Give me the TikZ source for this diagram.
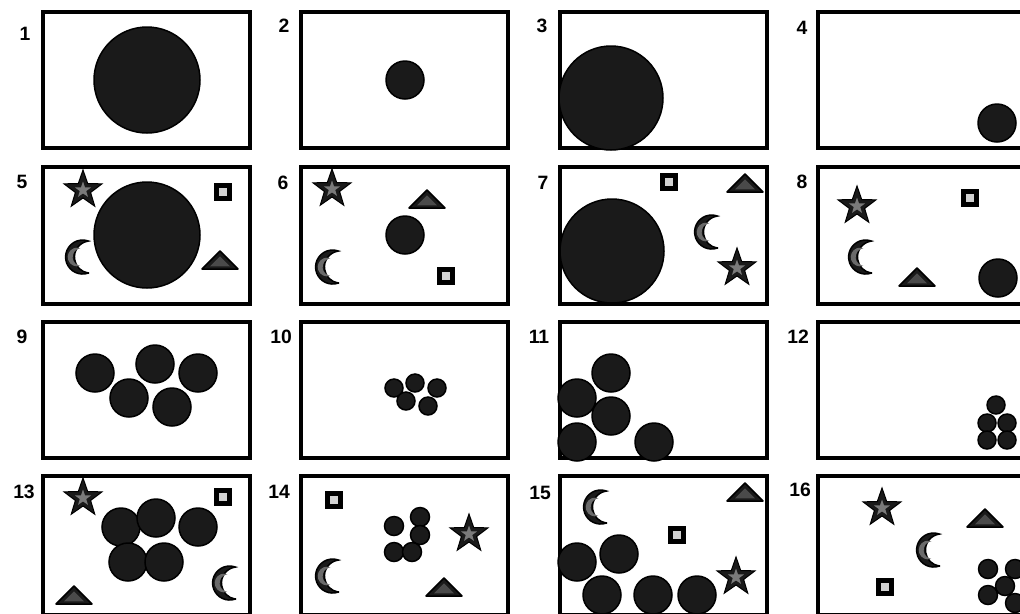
\documentclass[tikz,border=0pt]{standalone}
\usepackage{fontspec}
\setmainfont{Liberation Sans}
\usetikzlibrary{shapes.geometric}
\definecolor{dotfill}{HTML}{1A1A1A}
\definecolor{stargray}{HTML}{7A7A7A}
\definecolor{sqgray}{HTML}{D2D2D2}
\definecolor{trigray}{HTML}{4A4A4A}
\definecolor{moongray}{HTML}{6A6A6A}
\tikzset{
  frame/.style={draw=black,line width=0.08cm},
  dot/.style={fill=dotfill,draw=black,line width=0.03cm},
  lbl/.style={font=\fontsize{11}{13}\selectfont\bfseries,inner sep=0pt},
  starout/.style={star,star points=5,star point ratio=2.5,minimum size=0.8cm,inner sep=0pt,draw=black,line width=0.02cm,fill=dotfill},
  starin/.style={star,star points=5,star point ratio=2.5,minimum size=0.34cm,inner sep=0pt,fill=stargray},
  sq/.style={rectangle,minimum size=0.26cm,inner sep=0pt,draw=black,line width=0.1cm,fill=sqgray},
  tri/.style={draw=black,line width=0.03cm,fill=dotfill,line join=round},
  moonst/.style={draw=black,line width=0.03cm,fill=dotfill},
  starpic/.pic={\node[starout] (-o) at (0,0) {}; \node[starin] (-i) at (0,0) {};},
  tripic/.pic={\path[tri] (-18,9) -- (18,9) -- (0,-9) -- cycle;
     \fill[trigray] (-9.9,6.3) -- (9.9,6.3) -- (0,-3.6) -- cycle;},
  moonpic/.pic={\path[moonst] (11.4,16) arc[start angle=70,end angle=290,radius=17]
      arc[start angle=262.2,end angle=97.8,radius=16.15] -- cycle;
     \begin{scope}[shift={(-3,0)},scale=0.55]
     \fill[moongray] (11.4,16) arc[start angle=70,end angle=290,radius=17]
      arc[start angle=262.2,end angle=97.8,radius=16.15] -- cycle;
     \end{scope}}
}
\begin{document}
\begin{tikzpicture}[x=0.02cm,y=-0.02cm]
\useasboundingbox (0,0) rectangle (1020,613);
% frames
\foreach \l/\r in {43/249.5,301/508,559.5/767,817.5/1024}{
  \foreach \t/\b in {12/148,167/304,322/458,476/615}{
    \draw[frame] (\l,\t) rectangle (\r,\b);
  }
}
% labels
\node[lbl] (l1) at (25,34) {1};
\node[lbl] (l2) at (284,26) {2};
\node[lbl] (l3) at (542,26) {3};
\node[lbl] (l4) at (802,28) {4};
\node[lbl] (l5) at (22,182) {5};
\node[lbl] (l6) at (283,183) {6};
\node[lbl] (l7) at (543,183) {7};
\node[lbl] (l8) at (802,182) {8};
\node[lbl] (l9) at (22,337) {9};
\node[lbl] (l10) at (281,337) {10};
\node[lbl] (l11) at (539,337) {11};
\node[lbl] (l12) at (798,337) {12};
\node[lbl] (l13) at (24,492) {13};
\node[lbl] (l14) at (279,492) {14};
\node[lbl] (l15) at (540,493) {15};
\node[lbl] (l16) at (800,490) {16};
% panel 1-4
\draw[dot] (147,80) circle[radius=53];
\draw[dot] (405,80) circle[radius=19];
\draw[dot] (611,98) circle[radius=52];
\draw[dot] (997,123) circle[radius=19];
% panel 5
\draw[dot] (147,235) circle[radius=53];
\pic (s5) at (83,190) {starpic};
\node[sq] (q5) at (223,192) {};
\pic at (77,257) {moonpic};
\pic at (220,260) {tripic};
% panel 6
\pic (s6) at (332,189) {starpic};
\pic at (427,199) {tripic};
\draw[dot] (405,235) circle[radius=19];
\pic at (327,267) {moonpic};
\node[sq] (q6) at (446,276) {};
% panel 7
\node[sq] (q7) at (669,182) {};
\pic at (745,183) {tripic};
\draw[dot] (612,251) circle[radius=52];
\pic at (706,232) {moonpic};
\pic (s7) at (737,268) {starpic};
% panel 8
\pic (s8) at (857,206) {starpic};
\node[sq] (q8) at (970,198) {};
\pic at (860,257) {moonpic};
\pic at (917,277) {tripic};
\draw[dot] (998,278) circle[radius=19];
% panel 9
\foreach \p in {(95,373),(129,398),(155,364),(198,373),(172,407)}
  \draw[dot] \p circle[radius=19];
% panel 10
\foreach \p in {(394,388),(415,383),(437,388),(406,401),(428,406)}
  \draw[dot] \p circle[radius=9];
% panel 11
\foreach \p in {(611,373),(577,398),(611,416),(577,442),(654,442)}
  \draw[dot] \p circle[radius=19];
% panel 12
\foreach \p in {(996,405),(987,423),(1007,423),(987,440),(1007,440)}
  \draw[dot] \p circle[radius=9];
% panel 13
\pic (s13) at (83,498) {starpic};
\node[sq] (q13) at (223,497) {};
\foreach \p in {(121,527),(156,518),(198,527),(128,562),(164,562)}
  \draw[dot] \p circle[radius=19];
\pic at (74,595) {tripic};
\pic at (224,583) {moonpic};
% panel 14
\node[sq] (q14) at (334,500) {};
\foreach \p in {(394,526),(420,517),(420,535),(394,552),(412,552)}
  \draw[dot] \p circle[radius=9.5];
\pic (s14) at (469,534) {starpic};
\pic at (327,576) {moonpic};
\pic at (444,587) {tripic};
% panel 15
\pic at (595,507) {moonpic};
\pic at (745,492) {tripic};
\node[sq] (q15) at (677,535) {};
\foreach \p in {(577,562),(619,554),(602,595),(653,595),(697,595)}
  \draw[dot] \p circle[radius=19];
\pic (s15) at (736,577) {starpic};
% panel 16
\pic (s16) at (882,508) {starpic};
\pic at (985,518) {tripic};
\pic at (928,550) {moonpic};
\node[sq] (q16) at (885,587) {};
\foreach \p in {(988,569),(1015,569),(1005,586),(988,595),(1015,603)}
  \draw[dot] \p circle[radius=9.5];
\end{tikzpicture}
\end{document}
